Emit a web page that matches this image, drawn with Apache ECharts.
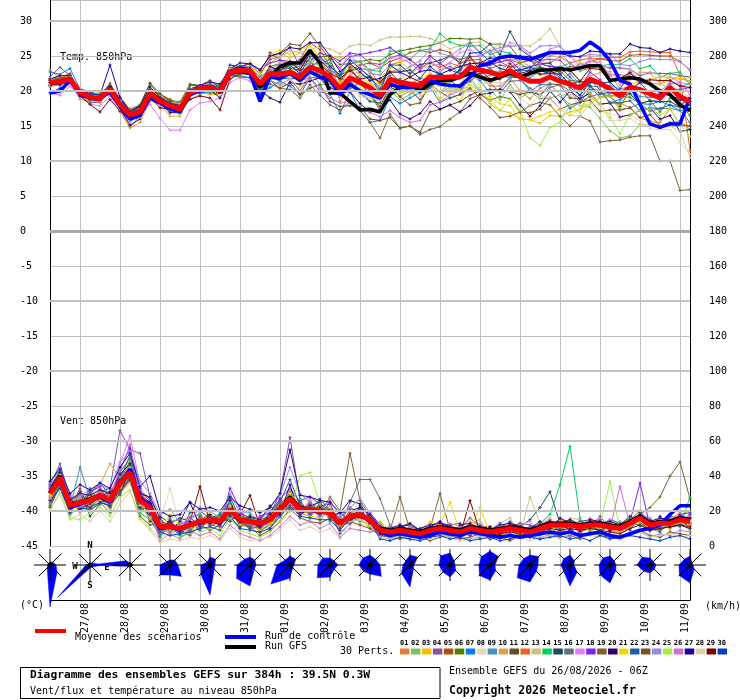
<!DOCTYPE html>
<html><head><meta charset="utf-8">
<script src="https://cdn.jsdelivr.net/npm/echarts@6/dist/echarts.min.js"></script>
<style>html,body{margin:0;padding:0;background:#fff}#c{width:740px;height:700px}</style>
</head><body><div id="c"></div><script>
// ---- time steps: 26/08/2026 06Z, every 6h, 65 steps (384h)
const runStart = Date.UTC(2026, 7, 26, 6);
const stepCount = 65;
const dayLabels = ['27/08','28/08','29/08','30/08','31/08','01/09','02/09','03/09','04/09','05/09','06/09','07/09','08/09','09/09','10/09','11/09'];
const pertLabels = ['01','02','03','04','05','06','07','08','09','10','11','12','13','14','15','16','17','18','19','20','21','22','23','24','25','26','27','28','29','30'];
const pertColors = ['#e08030','#80c060','#f0c000','#8850a8','#b05010','#508000','#0080ff','#e8d8b0','#4090c0','#e0a050','#605020','#f06020','#d0c080','#00d060','#204860','#607080','#e080f8','#8020f8','#806030','#300070','#f0d800','#2060a0','#805020','#9888e8','#a0f040','#d070d0','#2000a0','#e0d0a8','#800000','#0040c0'];

// ---- Temperature 850hPa (°C)
const meanT = [21.2,21.4,21.7,19.8,19.1, 18.9,20.3,18.1,16.6,17.0, 19.6,18.6,17.9,17.4,19.8, 20.3,20.5,20.0,22.7,23.0, 22.9,21.0,22.5,22.4,22.7, 22.0,23.4,22.9,22.0,20.3, 21.9,21.2,20.5,19.3,21.7, 21.2,21.0,20.8,22.0,21.9, 22.0,22.0,23.4,23.0,22.7, 22.2,22.9,22.0,21.4,21.4, 22.0,21.4,21.0,20.4,21.7, 21.1,20.3,19.3,20.6,20.2, 19.6,19.0,20.5,19.2,18.5];
const ctrlT = [19.7,20.0,21.5,19.5,19.0, 19.0,19.8,17.8,16.0,16.5, 19.0,18.3,17.5,17.0,19.5, 20.0,20.3,20.0,22.5,22.8, 22.5,18.5,22.0,21.8,22.5, 21.5,22.8,22.0,21.5,19.5, 21.0,20.0,19.5,19.0,21.0, 20.5,20.5,20.7,21.5,21.0, 20.8,20.7,22.0,23.6,24.0, 24.8,25.0,24.8,24.5,25.0, 25.5,25.5,25.5,25.8,27.0, 26.0,24.3,21.5,21.0,18.1, 15.3,14.8,15.3,15.3,19.1];
const gfsT = [21.0,21.3,21.8,19.6,19.0, 18.8,20.5,18.0,16.4,16.8, 19.8,18.8,17.7,17.2,19.6, 20.2,20.6,19.8,22.8,23.2, 23.0,20.5,22.0,23.5,24.0, 24.0,25.8,24.0,19.7,19.7, 18.5,17.3,17.4,17.0,19.5, 20.5,21.0,20.0,21.0,21.5, 21.5,22.0,22.5,22.0,21.5, 22.0,22.5,22.0,22.5,23.0, 23.0,23.2,23.0,23.3,23.6, 23.6,21.5,21.7,21.9,21.7, 21.0,20.0,19.5,18.0,17.2];
const T01 = [23.0,21.9,22.3,20.1,18.6, 18.6,20.5,17.3,14.8,16.5, 19.0,18.9,17.5,17.2,20.3, 20.3,20.2,20.4,22.2,22.8, 22.6,19.5,22.0,22.9,21.7, 20.0,22.4,22.7,23.2,18.5, 20.9,21.7,20.0,17.3,20.7, 19.2,20.0,20.8,22.5,20.9, 21.5,23.0,23.9,22.0,20.7, 20.7,21.9,20.0,18.9,20.4, 21.0,19.4,18.0,18.4,19.2, 18.1,18.3,18.3,17.6,16.2, 15.6,15.5,17.5,15.2,15.0];
const T02 = [20.7,21.1,21.7,20.0,18.9, 19.2,19.8,18.3,15.6,16.7, 18.6,18.1,17.1,16.9,18.8, 19.5,20.0,19.4,22.4,22.4, 22.4,21.5,21.5,20.9,20.7, 21.0,22.9,20.9,21.0,20.8, 20.4,20.2,18.5,18.8,20.2, 18.7,19.5,20.3,21.0,19.9, 21.0,20.0,21.9,20.0,20.2, 18.7,20.9,19.0,19.9,18.9, 19.0,19.4,19.5,17.9,17.7, 16.1,14.3,13.3,13.6,15.2, 15.1,15.0,15.5,15.7,14.5];
const T03 = [21.2,21.7,21.5,20.3,19.1, 18.4,20.6,17.8,17.1,17.8, 20.1,19.4,18.9,17.9,20.1, 19.8,19.5,19.5,23.2,23.3, 23.4,22.5,24.5,25.4,24.7, 25.5,24.9,25.4,25.0,24.8, 24.4,24.2,22.5,22.3,22.7, 22.7,20.5,18.8,21.0,18.9, 20.0,18.5,21.4,20.0,18.2, 17.2,16.9,16.0,15.9,15.4, 16.5,16.4,17.0,17.4,19.7, 18.1,18.3,18.3,21.1,21.2, 21.1,21.0,21.5,22.2,21.0];
const T04 = [22.0,23.4,22.2,19.3,18.3, 18.4,20.8,17.6,17.1,17.8, 19.6,19.1,18.2,18.4,20.3, 20.6,21.0,20.8,23.0,23.5, 23.9,22.5,24.5,24.9,26.2, 23.5,25.4,23.9,24.5,23.3, 24.9,25.2,24.0,23.8,24.7, 25.2,24.5,23.3,25.0,23.9, 25.0,24.5,24.9,25.0,25.7, 24.2,23.4,23.5,23.4,24.4, 24.5,24.4,23.0,23.9,23.7, 23.6,23.3,23.3,23.1,22.2, 22.6,22.5,22.5,22.2,22.0];
const T05 = [21.5,21.9,22.5,19.8,19.6, 19.4,20.5,18.9,17.1,17.3, 19.1,19.1,18.2,18.2,19.8, 20.8,20.8,20.0,23.2,23.0, 23.2,22.0,25.5,24.4,23.7, 24.5,26.9,25.9,23.5,22.3, 22.9,23.7,24.0,23.3,24.2, 24.7,25.5,25.8,25.5,25.9, 25.5,24.0,24.4,24.5,23.2, 23.7,23.4,24.0,24.4,22.9, 22.5,22.4,23.5,23.4,24.2, 24.6,24.3,24.3,25.1,25.2, 25.1,25.0,25.0,24.2,23.0];
const T06 = [20.9,21.4,22.0,20.3,19.4, 18.9,20.8,18.4,17.4,18.0, 21.1,19.1,18.7,18.4,21.0, 20.8,20.8,20.8,22.7,22.7, 22.4,21.5,23.5,23.9,23.2, 23.5,24.4,24.9,25.0,23.8, 23.9,24.2,24.5,24.3,25.2, 25.7,26.0,26.3,26.5,26.9, 27.5,27.5,27.4,27.5,26.7, 26.7,26.4,24.5,24.4,23.4, 23.0,22.9,21.5,21.4,21.2, 21.1,19.3,19.3,19.1,18.2, 18.6,17.0,19.0,18.2,16.5];
const T07 = [22.7,22.4,23.2,20.3,19.1, 18.4,20.0,18.1,16.9,16.5, 19.1,18.3,17.1,16.9,19.8, 19.8,19.7,19.7,22.2,22.2, 21.9,19.5,20.5,21.4,20.7, 19.5,21.9,19.9,19.5,16.8, 19.9,17.2,15.5,15.8,19.2, 18.2,19.0,19.8,20.5,18.4, 19.0,19.5,22.4,21.5,19.7, 20.2,21.9,22.0,19.9,20.9, 21.0,19.4,17.5,18.4,20.2, 20.1,18.3,18.8,19.6,18.2, 18.1,18.5,18.0,17.2,17.5];
const T08 = [21.7,21.7,22.2,19.5,19.1, 19.2,20.8,17.6,16.1,17.0, 20.1,18.6,17.6,17.4,20.3, 20.3,21.0,19.7,23.2,24.0, 24.4,23.0,25.0,23.9,24.7, 23.0,23.4,23.9,22.5,19.3, 21.9,20.2,20.5,20.3,21.2, 21.7,22.0,20.8,21.5,21.9, 21.0,22.0,23.9,24.0,24.2, 22.7,23.9,23.5,22.4,21.4, 21.0,19.4,19.5,17.9,18.2, 17.1,16.8,16.3,16.6,15.7, 14.6,14.5,14.5,12.7,11.0];
const T09 = [20.7,20.9,21.4,19.8,19.4, 19.4,20.6,18.6,16.6,17.5, 19.9,19.1,17.9,17.1,20.1, 20.8,20.5,20.3,22.4,23.0, 22.4,20.0,23.5,22.4,23.7, 22.5,22.4,22.4,23.0,21.8, 21.4,22.2,22.0,21.3,22.2, 20.2,21.0,21.8,21.5,22.9, 23.5,22.5,22.9,24.0,23.2, 22.2,21.9,23.0,21.9,22.9, 23.0,21.4,22.5,20.9,20.7, 20.6,20.8,20.3,20.6,19.2, 19.1,19.0,21.5,20.7,21.0];
const T10 = [21.7,21.4,21.2,18.8,18.6, 18.6,20.3,17.1,14.7,15.5, 18.6,18.1,16.4,16.4,19.3, 20.0,20.5,19.5,21.7,22.5, 22.9,21.5,23.5,22.9,24.2, 24.0,24.4,24.4,22.5,19.8, 22.4,22.7,21.5,19.3,22.7, 23.2,22.5,23.3,23.5,23.9, 23.0,24.0,24.9,23.5,23.7, 24.2,24.4,24.5,23.4,22.4, 22.5,22.9,23.0,21.4,22.2, 22.6,22.8,21.3,21.6,22.7, 22.6,21.0,22.0,21.7,21.5];
const T11 = [20.7,21.7,21.7,20.3,19.9, 19.4,20.6,18.9,17.1,18.0, 21.1,19.6,18.7,17.9,20.8, 20.8,21.5,20.5,23.0,23.0, 22.4,19.5,21.5,20.4,21.2, 19.5,20.4,20.9,18.5,17.8, 17.9,17.7,16.0,15.8,16.2, 14.7,15.0,14.1,17.0,17.4, 18.0,18.5,19.4,20.0,20.2, 20.2,19.9,19.5,19.9,19.4, 21.0,20.9,19.0,18.9,20.7, 19.1,19.3,17.8,20.1,20.2, 18.6,18.5,21.0,18.2,18.5];
const T12 = [21.5,22.2,22.2,20.1,19.6, 19.7,20.8,19.1,17.4,17.5, 19.6,18.9,18.4,17.7,19.8, 20.6,20.5,20.3,23.2,23.3, 23.4,21.0,23.0,23.4,24.2, 23.0,25.4,24.4,23.0,20.8, 23.4,23.2,23.0,20.8,23.7, 24.2,24.5,23.3,24.0,23.4, 24.0,23.5,23.9,24.0,24.2, 24.7,24.4,24.0,24.4,23.9, 24.0,24.9,24.0,24.4,24.7, 24.6,24.8,24.8,25.6,25.7, 25.6,25.5,25.5,22.2,11.5];
const T13 = [21.2,20.9,22.0,20.3,19.1, 18.4,20.3,18.6,16.3,17.5, 19.9,18.6,18.4,18.2,20.1, 20.8,21.3,20.3,23.7,23.5, 23.9,23.0,24.0,24.9,25.7, 25.5,25.9,26.4,26.0,25.3, 26.4,26.7,26.5,27.3,27.7, 27.7,27.8,27.8,27.5,26.9, 26.0,26.5,26.9,27.0,25.7, 26.7,26.4,26.5,26.4,27.4, 28.9,26.4,25.0,23.9,24.2, 24.1,22.3,20.8,23.1,21.2, 21.1,21.0,20.5,20.2,19.0];
const T14 = [21.7,21.7,21.7,19.5,18.6, 18.6,20.3,17.6,15.6,16.7, 19.1,18.3,17.9,16.9,19.5, 20.3,20.8,19.5,22.7,23.3, 23.4,22.0,23.0,22.4,23.7, 23.5,23.9,23.9,24.0,21.8, 24.4,24.2,23.0,22.8,25.7, 25.7,24.5,25.8,26.0,28.2, 27.0,26.5,26.4,26.5,25.2, 25.7,25.4,24.0,22.9,23.9, 23.5,23.4,24.0,22.9,23.2, 23.6,23.8,23.8,24.6,23.2, 23.6,22.0,22.5,22.7,21.0];
const T15 = [20.9,21.4,22.0,19.8,18.8, 18.9,20.8,18.4,16.6,17.3, 19.6,18.9,17.6,17.4,20.3, 20.6,20.5,20.5,22.4,23.0, 22.9,20.5,22.5,23.4,23.2, 23.0,23.4,24.4,23.0,22.3, 22.9,23.2,22.0,19.8,23.7, 23.7,22.5,23.8,24.0,24.4, 25.0,24.0,26.9,25.5,26.7, 25.2,28.5,26.0,24.9,23.9, 24.0,22.4,21.0,21.4,20.7, 19.6,19.8,19.3,19.6,18.2, 18.6,18.5,18.5,17.7,17.5];
const T16 = [21.2,21.7,21.2,19.5,19.1, 19.2,20.0,18.1,17.1,17.0, 19.1,18.6,18.2,17.4,19.3, 20.0,20.5,20.3,22.2,22.7, 22.4,19.5,22.0,21.4,22.7, 21.5,21.9,21.9,22.0,19.3, 20.4,21.2,19.5,17.3,20.2, 20.7,20.0,18.8,20.5,21.4, 20.5,20.0,22.4,22.5,21.2, 19.7,21.4,21.5,20.4,19.4, 20.5,20.9,20.0,18.4,19.2, 19.6,19.3,17.3,17.6,18.2, 17.1,17.5,17.5,17.2,15.5];
const T17 = [19.7,19.4,20.7,19.3,18.1, 17.9,19.3,17.1,15.6,16.5, 18.1,16.1,14.4,14.4,17.3, 18.3,18.5,19.0,21.2,22.0, 21.4,21.0,22.0,23.4,22.7, 23.0,25.4,24.4,24.5,23.3, 25.4,23.2,23.0,23.3,24.7, 24.7,24.0,22.8,24.5,22.9, 24.0,25.5,25.9,25.0,25.7, 25.7,26.9,26.5,24.9,24.4, 26.0,26.4,25.0,23.4,24.2, 24.1,22.3,20.3,22.6,21.7, 21.6,22.0,22.0,21.2,21.0];
const T18 = [21.5,21.4,22.2,20.1,18.8, 18.9,20.6,18.1,16.1,16.7, 20.1,18.6,18.2,17.9,19.8, 20.8,20.5,20.0,23.0,23.5, 23.9,23.0,24.0,24.4,24.2, 24.0,24.4,25.4,25.0,24.3, 25.4,25.2,25.5,25.8,26.2, 25.2,24.5,23.3,25.0,23.9, 23.0,22.5,22.9,23.5,23.7, 24.2,24.4,23.0,23.4,23.9, 23.5,23.4,22.0,20.4,22.7, 21.6,19.8,20.3,22.6,21.2, 21.1,19.5,20.0,20.2,20.5];
const T19 = [20.7,21.1,21.7,20.1,19.6, 19.4,21.1,18.6,16.9,17.8, 20.1,19.6,18.4,17.7,20.3, 20.3,20.0,20.0,22.2,22.0, 21.9,20.5,21.0,20.4,20.2, 19.0,20.9,19.4,18.0,17.3, 18.4,17.2,15.5,13.3,16.7, 14.7,15.0,13.8,14.5,14.9, 16.0,17.0,18.9,19.5,18.7, 19.2,18.9,17.0,17.9,18.4, 18.0,16.4,15.0,16.4,15.7, 12.7,12.9,13.0,13.4,13.6, 13.6,10.0,10.0,5.8,5.9];
const T20 = [21.2,20.9,21.4,20.1,19.1, 18.6,20.3,17.6,15.1,16.0, 19.1,18.3,16.9,16.9,19.8, 19.8,20.2,19.0,22.2,22.7, 22.4,20.2,19.0,18.4,21.2, 21.0,21.4,21.9,20.5,19.8, 19.9,18.2,17.0,17.3,18.7, 16.7,16.0,16.8,18.5,17.4, 18.0,17.0,17.9,19.5,19.7, 20.2,19.9,18.0,16.4,17.9, 20.0,18.4,20.0,18.9,19.7, 18.1,18.3,16.3,16.6,17.2, 17.6,16.0,16.5,14.2,14.5];
const T21 = [21.7,22.2,21.7,19.5,19.4, 19.4,19.8,18.4,17.1,17.0, 19.3,19.1,17.9,17.9,19.5, 20.6,20.5,20.5,23.0,23.0, 23.4,22.5,25.0,25.9,25.2, 26.0,26.4,24.9,24.5,21.3, 23.9,22.2,21.0,21.3,23.2, 24.2,23.0,21.8,22.5,20.9, 20.0,20.5,20.4,20.5,19.2, 18.2,17.9,16.0,15.9,16.4, 17.0,17.4,16.5,17.4,18.2, 19.1,19.3,17.3,20.1,21.2, 21.6,22.0,22.0,21.7,22.0];
const T22 = [20.9,21.4,22.0,19.3,18.8, 18.9,19.8,18.4,17.1,17.0, 19.9,18.6,17.9,17.7,19.8, 20.0,20.5,20.3,22.7,23.3, 22.9,20.0,22.5,21.9,21.7, 22.0,24.4,21.9,20.0,19.3, 21.4,19.7,18.5,18.3,21.7, 21.7,20.5,19.8,22.0,22.4, 21.5,20.5,21.4,22.5,22.7, 22.7,22.9,23.0,22.9,23.4, 23.0,21.9,20.5,19.4,21.7, 20.1,18.3,18.3,18.6,17.2, 17.6,17.5,18.0,17.7,18.0];
const T23 = [21.5,21.9,22.0,19.8,18.8, 18.9,20.6,18.1,16.1,17.0, 20.1,18.6,18.4,17.4,20.1, 20.3,21.0,20.0,23.2,23.5, 23.9,23.0,25.0,25.4,26.7, 26.5,28.2,26.4,24.5,21.3, 23.4,21.2,19.5,17.8,20.7, 19.2,18.0,18.3,21.0,19.9, 19.0,19.5,20.4,19.0,17.7, 16.2,16.4,17.0,16.9,17.4, 19.0,17.4,18.0,18.4,18.7, 17.1,17.3,17.3,17.6,16.2, 16.6,15.0,15.5,15.2,15.0];
const T24 = [21.2,21.7,21.7,20.3,19.4, 18.9,20.0,18.6,16.9,17.0, 19.6,18.9,17.9,16.9,19.8, 20.3,20.2,20.0,22.7,22.7, 23.4,22.0,23.0,23.9,23.7, 23.5,23.9,24.9,23.0,22.3, 24.4,24.2,22.5,22.3,23.7, 22.7,23.5,24.3,26.0,25.4, 25.0,26.0,26.9,25.5,25.7, 26.2,26.4,26.5,25.4,26.4, 26.5,26.4,25.0,24.9,25.2, 25.1,25.3,23.8,23.6,24.2, 24.6,24.5,24.5,24.2,23.0];
const T25 = [21.7,21.4,21.4,20.1,19.1, 19.2,20.3,18.6,16.1,16.2, 18.6,18.1,17.6,16.6,19.3, 20.0,20.5,19.5,22.7,23.0, 22.4,20.0,22.5,21.9,23.7, 22.0,24.4,23.4,21.5,21.3, 21.9,20.7,21.5,20.8,21.2, 19.7,20.0,20.8,21.0,19.9, 20.5,20.0,20.9,20.0,18.7, 17.2,18.9,17.2,13.3,12.2, 14.8,15.5,18.0,16.9,19.7, 18.1,16.3,13.9,16.6,17.2, 17.6,16.5,17.5,15.2,13.5];
const T26 = [20.7,21.1,21.2,19.8,19.4, 18.9,20.0,17.6,16.1,16.7, 19.1,18.6,17.4,17.1,19.3, 20.0,20.0,20.0,22.2,22.7, 22.4,21.0,21.5,20.9,21.7, 20.0,21.9,20.4,19.0,18.3, 18.4,17.2,17.0,16.3,17.2, 16.2,15.5,15.8,18.0,18.4, 19.5,20.0,21.9,22.0,22.2, 22.7,24.4,24.5,24.4,23.9, 25.0,25.4,24.0,22.9,24.7, 23.6,22.3,22.3,22.1,21.2, 21.1,20.0,21.0,21.2,19.5];
const T27 = [21.7,22.2,22.2,20.1,19.6, 19.4,23.7,19.1,17.1,17.8, 20.6,19.1,18.2,17.9,20.1, 20.8,21.3,21.0,23.2,24.0, 23.9,23.0,25.0,25.4,26.2, 26.0,26.9,26.9,25.0,22.8, 23.9,22.7,21.5,21.8,22.7, 22.7,22.0,22.8,23.0,22.4, 23.0,23.5,23.9,24.0,24.7, 24.7,24.9,25.0,24.9,24.4, 25.5,25.4,25.0,24.9,25.7, 25.6,25.3,25.3,26.7,26.2, 26.1,25.5,26.0,25.7,25.5];
const T28 = [20.9,21.4,22.0,20.3,19.1, 18.6,20.3,18.6,16.3,17.5, 19.9,18.1,17.9,17.7,20.3, 20.3,20.8,19.5,23.2,23.0, 23.4,20.5,21.5,22.4,21.7, 20.5,22.4,22.9,22.5,19.3, 20.9,19.2,19.0,18.8,20.2, 20.2,21.0,19.3,20.0,20.9, 20.0,21.0,22.9,21.0,21.2, 21.2,20.4,19.0,17.9,19.4, 19.0,17.4,16.5,16.4,18.2, 18.1,15.8,15.8,16.1,15.2, 15.1,15.0,15.0,14.2,10.5];
const T29 = [21.2,20.9,21.7,19.3,18.1, 17.0,18.8,17.1,16.1,17.0, 19.1,17.6,17.4,17.4,18.8, 19.3,19.0,17.3,21.7,22.5, 22.4,21.0,23.5,22.9,24.2, 23.0,25.4,23.9,22.5,21.8, 22.9,21.7,22.0,21.3,22.7, 21.2,22.0,21.3,21.5,22.4, 22.0,23.0,24.9,23.0,21.7, 21.7,23.9,22.5,22.9,22.4, 22.5,22.9,23.0,21.4,23.2, 23.1,21.3,21.8,22.6,21.2, 21.6,21.5,21.5,20.7,20.5];
const T30 = [19.7,20.4,21.2,19.8,19.6, 19.4,20.6,18.9,16.9,17.5, 20.1,18.9,18.4,17.4,20.3, 20.8,20.8,20.5,23.7,23.5, 23.4,19.5,22.5,22.9,23.7, 22.5,24.9,24.9,23.5,22.3, 24.4,23.2,22.0,20.3,23.7, 22.7,23.0,21.8,23.5,22.4, 22.0,23.0,25.4,25.5,24.2, 23.2,22.9,23.0,23.4,22.9, 22.5,22.4,21.0,19.4,21.2, 21.1,21.3,19.8,20.1,21.2, 19.6,19.5,19.5,18.7,18.5];

// ---- Wind 850hPa (km/h)
const meanW = [30,39,23,25,26, 29,26,36,42,26, 22,11,11,10,12, 14,15,14,21,15, 14,13,15,21,27, 21,21,20,19,13, 17,18,15,9,8, 9,8,7,9,10, 9,8,10,9,8, 9,10,9,8,10, 12,12,12,11,12, 12,11,10,13,16, 12,13,13,15,14];
const ctrlW = [30,38,22,24,26, 28,25,36,44,27, 24,10,11,9,12, 13,15,13,21,14, 14,12,15,20,27, 20,21,19,20,13, 17,17,15,8,6, 7,6,5,6,8, 7,6,8,7,6, 5,6,5,6,7, 8,7,8,6,7, 8,6,5,7,9, 10,12,18,23,23];
const gfsW = [31,40,24,25,27, 29,26,37,42,27, 22,11,11,10,12, 14,15,14,21,15, 14,13,15,21,28, 22,21,20,19,13, 17,18,15,10,9, 10,9,8,10,11, 10,9,11,10,9, 10,11,10,9,11, 13,13,13,12,13, 13,12,11,14,17, 13,14,14,16,15];
const W01 = [28,36,25,22,30, 27,24,38,45,30, 18,9,8,12,10, 16,12,13,19,12, 16,11,10,24,30, 22,18,23,17,10, 15,20,12,7,5, 8,6,9,12,7, 6,10,8,7,11, 6,8,12,9,6, 10,15,14,8,10, 15,9,7,11,14, 10,8,15,19,12];
const W02 = [32,40,21,27,22, 30,28,33,40,22, 25,13,10,8,14, 12,16,11,22,16, 12,15,17,18,25, 24,20,18,22,15, 14,16,18,10,6, 5,9,8,6,12, 10,7,12,8,5, 12,9,7,6,14, 8,10,15,13,9, 10,14,12,9,18, 16,9,12,11,17];
const W03 = [29,41,24,20,28, 33,21,44,48,28, 20,10,14,7,9, 13,18,16,24,18, 12,9,20,25,30, 19,24,22,16,11, 20,15,10,14,9, 12,8,5,10,7, 11,6,14,12,10, 7,12,10,5,8, 14,9,10,12,15, 9,12,8,16,13, 11,15,10,13,9];
const W04 = [35,47,27,30,24, 31,33,66,55,53, 28,14,12,9,16, 18,13,17,26,14, 17,12,18,30,62, 26,28,24,20,16, 22,19,14,8,10, 7,11,9,6,13, 8,10,16,11,7, 10,14,8,11,12, 15,11,13,9,11, 17,10,14,12,19, 14,11,17,16,13];
const W05 = [27,35,22,24,27, 26,25,34,38,24, 15,8,12,11,8, 15,14,12,18,13, 10,14,12,20,24, 18,22,17,19,12, 13,17,16,6,9, 11,7,6,8,9, 12,9,6,10,11, 8,11,13,7,9, 11,14,9,10,13, 11,9,12,14,17, 10,12,14,18,15];
const W06 = [31,38,20,26,25, 28,27,35,44,27, 24,12,9,13,11, 12,17,15,20,17, 15,10,14,22,26, 20,19,21,18,13, 16,21,13,10,7, 9,10,8,7,11, 7,8,11,9,6, 11,10,9,8,12, 13,11,10,14,12, 12,11,9,15,20, 12,14,11,13,16];
const W07 = [24,37,26,23,29, 27,22,40,46,30, 21,9,11,6,13, 16,12,14,17,15, 12,13,16,17,28, 17,23,19,21,14, 18,14,17,8,11, 6,9,7,11,8, 10,7,9,6,9, 8,11,7,9,10, 12,13,12,9,11, 14,13,8,12,15, 9,16,13,15,12];
const W08 = [30,39,24,25,24, 29,27,37,41,25, 23,14,33,12,16, 13,16,15,22,16, 15,12,14,23,27, 22,20,19,17,12, 17,16,14,11,7, 8,9,10,12,9, 8,6,10,8,7, 9,8,11,6,10, 13,12,11,10,14, 11,10,12,13,15, 13,11,12,14,11];
const W09 = [33,42,22,45,27, 31,26,31,40,24, 19,10,9,11,10, 14,15,13,23,14, 13,12,18,22,29, 23,21,18,20,14, 15,18,13,9,8, 10,7,6,9,11, 9,10,12,7,8, 11,9,8,10,9, 12,14,13,11,10, 10,12,11,14,17, 11,13,15,12,14];
const W10 = [28,34,24,27,31, 35,47,39,44,29, 17,8,10,13,12, 16,14,16,20,12, 14,11,13,19,25, 19,17,22,18,11, 14,15,12,7,10, 8,6,9,8,10, 7,9,8,10,6, 8,12,10,7,11, 10,11,14,8,13, 13,8,10,12,16, 14,10,11,16,15];
const W11 = [26,38,21,24,22, 27,24,35,43,22, 21,11,13,9,11, 15,18,12,18,17, 16,15,17,21,22, 21,24,20,18,10, 19,16,17,12,6, 11,8,10,9,7, 11,8,9,12,10, 9,7,11,8,12, 14,10,12,13,11, 9,12,10,11,18, 15,12,14,17,12];
const W12 = [31,40,23,26,25, 28,29,38,47,27, 24,13,11,10,14, 12,13,17,21,13, 11,14,15,24,29, 25,19,21,22,15, 16,20,14,8,9, 7,10,9,10,12, 10,9,11,8,9, 7,10,12,9,8, 11,13,12,10,12, 13,11,9,13,16, 12,14,12,15,13];
const W13 = [24,33,27,19,30, 34,22,30,36,21, 26,15,7,14,17, 10,19,9,16,20, 9,17,12,17,33, 16,26,14,23,9, 21,13,19,12,5, 13,6,10,13,8, 12,5,13,15,6, 13,16,7,28,13, 16,8,16,15,7, 15,7,14,9,18, 8,16,9,18,20];
const W14 = [36,44,18,29,21, 32,30,40,48,19, 15,6,16,5,8, 18,11,19,25,10, 18,8,19,25,22, 27,16,25,14,17, 13,22,10,6,11, 7,11,4,10,13, 6,11,7,12,5, 11,7,12,6,13, 18,35,57,16,9, 14,9,12,16,11, 13,9,17,11,28];
const W15 = [22,35,19,31,17, 24,31,29,46,33, 14,17,13,16,14, 9,17,16,14,19, 16,8,13,27,20, 25,18,24,16,19, 14,23,12,13,7, 11,12,9,7,13, 12,13,6,11,10, 7,13,11,15,22, 31,13,9,14,15, 10,15,13,11,19, 15,10,16,13,18];
const W16 = [34,43,28,21,33, 25,19,42,50,32, 27,7,14,15,9, 17,12,11,24,12, 11,16,10,19,31, 18,24,17,25,11, 25,38,38,27,12, 8,6,9,8,7, 10,8,11,7,9, 10,9,13,12,10, 14,9,8,11,14, 10,11,12,13,12, 9,10,11,12,13];
const W17 = [27,44,19,28,22, 33,24,47,63,35, 17,14,6,12,15, 19,11,17,16,19, 13,9,17,16,24, 17,27,15,21,16, 12,19,13,6,12, 9,11,6,12,7, 13,11,7,13,6, 11,7,12,14,8, 14,7,15,9,16, 13,15,8,10,18, 16,11,14,12,17];
const W18 = [35,36,29,20,31, 34,22,44,56,31, 26,9,15,8,16, 12,18,11,33,21, 10,17,19,27,33, 25,18,23,24,10, 21,15,19,12,6, 12,8,9,6,14, 10,5,12,8,9, 13,9,11,7,12, 9,15,9,14,11, 15,9,12,14,36, 11,15,12,18,19];
const W19 = [25,33,27,20,21, 24,28,31,37,21, 18,15,8,12,9, 16,13,17,15,11, 15,10,17,19,22, 18,25,19,28,20, 53,26,17,10,9, 28,9,8,10,30, 9,7,11,9,8, 10,9,10,8,11, 12,11,13,10,12, 11,12,10,14,18, 22,28,40,48,27];
const W20 = [33,42,26,30,29, 32,30,41,47,30, 28,16,9,14,25, 11,18,13,26,11, 17,15,23,18,35, 17,23,25,17,19, 26,24,16,8,7, 11,13,9,11,14, 7,12,13,10,11, 6,12,11,10,14, 10,16,13,8,15, 14,9,12,17,14, 9,17,11,12,10];
const W21 = [26,40,17,24,28, 26,21,33,45,23, 16,8,18,11,7, 15,19,10,23,12, 14,9,13,14,30, 23,17,16,22,8, 20,15,11,13,10, 7,5,8,14,12, 25,8,10,22,7, 12,8,6,10,7, 9,14,11,13,9, 10,13,7,11,14, 10,15,16,13,12];
const W22 = [31,43,24,26,30, 36,29,38,52,28, 23,5,13,7,19, 20,16,18,28,16, 10,11,20,25,38, 23,20,27,20,7, 13,21,12,5,9, 6,9,4,10,11, 5,9,11,10,4, 10,11,5,9,6, 13,8,14,7,13, 8,12,11,9,17, 13,8,14,16,10];
const W23 = [23,38,21,33,20, 25,23,30,39,17, 12,13,10,9,6, 12,9,12,17,14, 11,6,9,14,21, 16,14,13,16,11, 14,12,10,6,5, 4,6,5,3,5, 6,4,5,7,4, 5,3,6,5,4, 7,5,6,4,8, 6,5,4,7,9, 6,5,8,7,6];
const W24 = [36,45,25,29,32, 35,32,48,54,37, 30,18,21,13,15, 22,20,16,30,19, 19,14,22,29,45, 30,25,20,26,17, 22,27,19,5,4, 6,5,4,6,7, 5,6,4,5,6, 4,7,5,6,5, 6,8,5,7,6, 8,6,5,7,8, 5,7,6,9,8];
const W25 = [20,31,16,15,19, 22,17,28,32,16, 10,4,9,5,11, 8,10,6,16,9, 7,5,8,14,20, 40,42,24,18,12, 17,17,15,8,8, 10,8,7,9,11, 9,8,10,8,8, 9,10,8,8,10, 12,11,12,11,13, 12,37,9,13,15, 12,13,12,15,14];
const W26 = [33,37,28,22,27, 31,29,43,58,28, 20,3,7,4,9, 6,8,4,12,7, 5,3,6,11,17, 12,14,10,13,5, 10,9,8,9,7, 8,8,6,9,10, 8,8,9,9,7, 8,9,9,7,10, 11,12,11,10,11, 13,10,34,12,15, 11,12,13,14,13];
const W27 = [37,44,30,35,32, 36,33,45,53,34, 40,20,17,18,25, 21,22,20,28,23, 21,19,22,30,55, 29,28,26,25,19, 20,22,18,11,10, 12,9,10,12,13, 11,10,12,11,9, 12,13,11,10,12, 14,13,15,12,14, 13,14,12,15,18, 14,16,15,17,16];
const W28 = [21,29,15,18,14, 20,14,24,31,15, 9,2,4,3,5, 4,6,3,10,5, 3,4,5,9,15, 9,11,8,10,4, 14,15,12,5,4, 6,3,5,4,6, 5,3,4,6,5, 4,6,5,3,5, 6,4,7,5,6, 5,7,4,6,8, 5,6,7,5,6];
const W29 = [31,35,27,21,24, 28,31,34,40,29, 25,10,14,8,14, 34,13,15,19,18, 29,11,18,23,26, 19,20,22,18,15, 15,17,13,7,6, 7,6,5,8,9, 7,6,26,8,6, 7,8,7,6,8, 10,9,10,9,10, 9,8,7,10,12, 9,10,11,12,11];
const W30 = [26,33,19,21,22, 25,23,32,38,22, 18,8,6,7,8, 10,11,9,17,10, 9,8,10,17,23, 17,16,15,15,9, 16,17,14,4,3, 5,4,3,5,6, 4,5,3,4,5, 3,4,6,5,4, 5,6,4,5,3, 6,4,5,6,5, 4,3,5,6,4];

// ---- Daily wind roses (06Z each day), sector values N, NE, E, SE, S, SW, W, NW
const roseN  = [3, 2, 2, 5, 8, 8, 9, 7,10,10,12,14,10,10, 9, 7, 9];
const roseNE = [4, 3, 2, 7, 8, 7, 8, 6, 8,11, 6,12,12, 6, 6, 5, 3];
const roseE  = [6,12, 3, 8, 5, 6, 4, 8,10, 4, 5, 5, 8, 4, 6, 6, 3];
const roseSE = [10,3, 2,16, 6, 6, 4, 6,16, 5, 8, 8, 9,10, 8, 6, 6];
const roseS  = [42,3, 2,10,30,21,13,12, 9,22,12,15,17,21,18, 8,18];
const roseSW = [4,46, 2,14,13,19,27,18, 9,12,10,15,18, 9,14, 9,15];
const roseW  = [2, 4,40,10, 9,13,13,12,11, 7,11,11,11, 9,11,13,11];
const roseNW = [2, 2, 6, 5, 4, 8, 7,10,10, 6,13,12, 9, 9,10,11, 8];
const compass = ['N','E','S','W'];

// ---------------------------------------------------------------
const tempPerts = [T01,T02,T03,T04,T05,T06,T07,T08,T09,T10,T11,T12,T13,T14,T15,T16,T17,T18,T19,T20,T21,T22,T23,T24,T25,T26,T27,T28,T29,T30];
const windPerts = [W01,W02,W03,W04,W05,W06,W07,W08,W09,W10,W11,W12,W13,W14,W15,W16,W17,W18,W19,W20,W21,W22,W23,W24,W25,W26,W27,W28,W29,W30];
const steps = [];
for (let i = 0; i < stepCount; i++) {
  const d = new Date(runStart + i * 6 * 3600 * 1000);
  steps.push(String(d.getUTCDate()).padStart(2,'0') + '/' + String(d.getUTCMonth()+1).padStart(2,'0') + ' ' + String(d.getUTCHours()).padStart(2,'0') + 'Z');
}
const isMidnight = (idx) => steps[idx] && steps[idx].endsWith('00Z');
const dayOf = (idx) => dayLabels[dayLabels.indexOf(steps[idx].slice(0,5))] || '';
const roseSteps = steps.map((s, i) => i).filter(i => steps[i].endsWith('06Z'));

const FONT = '"DejaVu Sans Mono", monospace';
const GRID = '#c0c0c0';
const plusSym = 'path://M1,0L2,0L2,1L3,1L3,2L2,2L2,3L1,3L1,2L0,2L0,1L1,1Z';

const series = [];
// thick grid lines every 10 °C
series.push({
  type: 'line', xAxisIndex: 0, yAxisIndex: 0, data: steps.map(() => null), z: 1, silent: true,
  markLine: { silent: true, symbol: 'none', label: { show: false }, animation: false,
    lineStyle: { color: GRID, width: 2, type: 'solid' },
    data: [30, 20, 10, -10, -20, -30, -40].map(v => ({ yAxis: v }))
      .concat([{ yAxis: 0, lineStyle: { color: '#a8a8a8', width: 3, type: 'solid' } }]) }
});
tempPerts.forEach((arr, k) => series.push({
  type: 'line', xAxisIndex: 0, yAxisIndex: 0, data: arr, z: 2,
  symbol: plusSym, symbolSize: 3, showAllSymbol: true,
  lineStyle: { width: 1, color: pertColors[k] }, itemStyle: { color: pertColors[k] }
}));
windPerts.forEach((arr, k) => series.push({
  type: 'line', xAxisIndex: 0, yAxisIndex: 1, data: arr, z: 2,
  symbol: plusSym, symbolSize: 3, showAllSymbol: true,
  lineStyle: { width: 1, color: pertColors[k] }, itemStyle: { color: pertColors[k] }
}));
[[gfsT, 0, '#000000', 3.5], [gfsW, 1, '#000000', 3.5], [ctrlT, 0, '#0000ff', 3.5], [ctrlW, 1, '#0000ff', 3.5], [meanT, 0, '#ff0000', 5], [meanW, 1, '#ff0000', 5]]
  .forEach(([arr, ax, col, w]) => series.push({
    type: 'line', xAxisIndex: 0, yAxisIndex: ax, data: arr, z: 3, symbol: 'none',
    lineStyle: { width: w, color: col }
  }));

const roseDirs = [roseN, roseNE, roseE, roseSE, roseS, roseSW, roseW, roseNW];
const roseData = roseN.map((_, k) => [roseSteps[k]].concat(roseDirs.map(a => a[k])));
series.push({
  type: 'custom', xAxisIndex: 1, yAxisIndex: 2, data: roseData, z: 5, clip: false,
  renderItem: (params, api) => {
    const c = api.coord([api.value(0), 35]);
    const pts = [];
    for (let d = 0; d < 8; d++) {
      const a = d * Math.PI / 4, r = api.value(d + 1);
      pts.push([c[0] + r * Math.sin(a), c[1] - r * Math.cos(a)]);
    }
    const ch = [{ type: 'polygon', shape: { points: pts }, style: { fill: '#0000ff', stroke: '#0000ff', lineWidth: 0.5 } }];
    const L = 16;
    for (let d = 0; d < 4; d++) {
      const a = d * Math.PI / 4, dx = L * Math.sin(a), dy = L * Math.cos(a);
      ch.push({ type: 'line', shape: { x1: c[0] - dx, y1: c[1] + dy, x2: c[0] + dx, y2: c[1] - dy }, style: { stroke: '#000', lineWidth: 1 } });
    }
    ch.push({ type: 'circle', shape: { cx: c[0], cy: c[1], r: 2.5 }, style: { fill: '#000' } });
    if (params.dataIndex === 1) {
      const off = [[0, -19], [17, 3], [0, 21], [-15, 2]];
      compass.forEach((t, i) => ch.push({ type: 'text', style: { text: t, x: c[0] + off[i][0], y: c[1] + off[i][1], align: 'center', verticalAlign: 'middle', font: 'bold 9px ' + FONT, fill: '#000' } }));
    }
    return { type: 'group', children: ch };
  }
});

const xSplit = { show: true, interval: (i) => isMidnight(i), lineStyle: { color: GRID, width: 1 } };
const option = {
  animation: false,
  backgroundColor: '#fff',
  grid: [
    { left: 50, right: 50, top: 0, height: 546 },
    { left: 50, right: 50, top: 546, height: 54 }
  ],
  xAxis: [
    { type: 'category', gridIndex: 0, data: steps, boundaryGap: false,
      axisLine: { show: false }, axisTick: { show: false }, axisLabel: { show: false }, splitLine: xSplit },
    { type: 'category', gridIndex: 1, data: steps, boundaryGap: false,
      axisLine: { show: true, lineStyle: { color: '#000', width: 1 } }, axisTick: { show: false },
      axisLabel: { show: true, interval: (i) => isMidnight(i), formatter: (v, i) => dayOf(i), rotate: 90, margin: 3,
        verticalAlign: 'top', color: '#000', fontFamily: FONT, fontSize: 10 },
      splitLine: xSplit }
  ],
  yAxis: [
    { type: 'value', gridIndex: 0, position: 'left', min: -45, max: 33, interval: 5,
      axisLine: { show: true, lineStyle: { color: '#000', width: 1 } }, axisTick: { show: false },
      axisLabel: { showMaxLabel: false, align: 'left', margin: 30, color: '#000', fontFamily: FONT, fontSize: 10, padding: [3, 0, 0, 0] },
      splitLine: { show: true, lineStyle: { color: GRID, width: 1 } } },
    { type: 'value', gridIndex: 0, position: 'right', min: 0, max: 312, interval: 20,
      axisLine: { show: true, onZero: false, lineStyle: { color: '#000', width: 1 } }, axisTick: { show: false },
      axisLabel: { showMaxLabel: false, align: 'left', margin: 19, color: '#000', fontFamily: FONT, fontSize: 10, padding: [3, 0, 0, 0] },
      splitLine: { show: false } },
    { type: 'value', gridIndex: 1, position: 'right', min: 0, max: 54,
      axisLine: { show: true, onZero: false, lineStyle: { color: '#000', width: 1 } }, axisTick: { show: false },
      axisLabel: { show: false }, splitLine: { show: false } }
  ],
  series: series,
  graphic: [
    { type: 'text', left: 60, top: 52, style: { text: 'Temp. 850hPa', font: '10px ' + FONT, fill: '#000' } },
    { type: 'text', left: 60, top: 416, style: { text: 'Vent 850hPa', font: '10px ' + FONT, fill: '#000' } },
    { type: 'text', left: 20, top: 600, style: { text: '(°C)', font: '10px ' + FONT, fill: '#000' } },
    { type: 'text', left: 705, top: 601, style: { text: '(km/h)', font: '10px ' + FONT, fill: '#000' } },
    { type: 'rect', shape: { x: 35, y: 629, width: 31, height: 4 }, style: { fill: '#ff0000' } },
    { type: 'text', left: 75, top: 632, style: { text: 'Moyenne des scénarios', font: '10px ' + FONT, fill: '#000' } },
    { type: 'rect', shape: { x: 225, y: 635, width: 31, height: 4 }, style: { fill: '#0000ff' } },
    { type: 'text', left: 265, top: 631, style: { text: 'Run de contrôle', font: '10px ' + FONT, fill: '#000' } },
    { type: 'rect', shape: { x: 225, y: 645, width: 31, height: 4 }, style: { fill: '#000' } },
    { type: 'text', left: 265, top: 641, style: { text: 'Run GFS', font: '10px ' + FONT, fill: '#000' } },
    { type: 'text', left: 340, top: 646, style: { text: '30 Perts.', font: '10px ' + FONT, fill: '#000' } },
    ...pertLabels.map((t, k) => ({ type: 'text', left: 400 + k * 10.95, top: 640, style: { text: t, font: 'bold 7px ' + FONT, fill: '#000' } })),
    ...pertColors.map((c, k) => ({ type: 'rect', shape: { x: 400 + k * 10.95, y: 648.5, width: 9.5, height: 6 }, style: { fill: c } })),
    { type: 'rect', shape: { x: 20.5, y: 667.5, width: 419.5, height: 31 }, style: { fill: 'none', stroke: '#000', lineWidth: 1 } },
    { type: 'text', left: 30, top: 670, style: { text: 'Diagramme des ensembles GEFS sur 384h : 39.5N 0.3W', font: 'bold 11.3px ' + FONT, fill: '#000' } },
    { type: 'text', left: 30, top: 686, style: { text: 'Vent/flux et température au niveau 850hPa', font: '10px ' + FONT, fill: '#000' } },
    { type: 'text', left: 449, top: 666, style: { text: 'Ensemble GEFS du 26/08/2026 - 06Z', font: '10px ' + FONT, fill: '#000' } },
    { type: 'text', left: 449, top: 685, style: { text: 'Copyright 2026 Meteociel.fr', font: 'bold 11.5px ' + FONT, fill: '#000' } }
  ]
};
const chart = echarts.init(document.getElementById('c'), null, { renderer: 'canvas' });
chart.setOption(option);
</script></body></html>
